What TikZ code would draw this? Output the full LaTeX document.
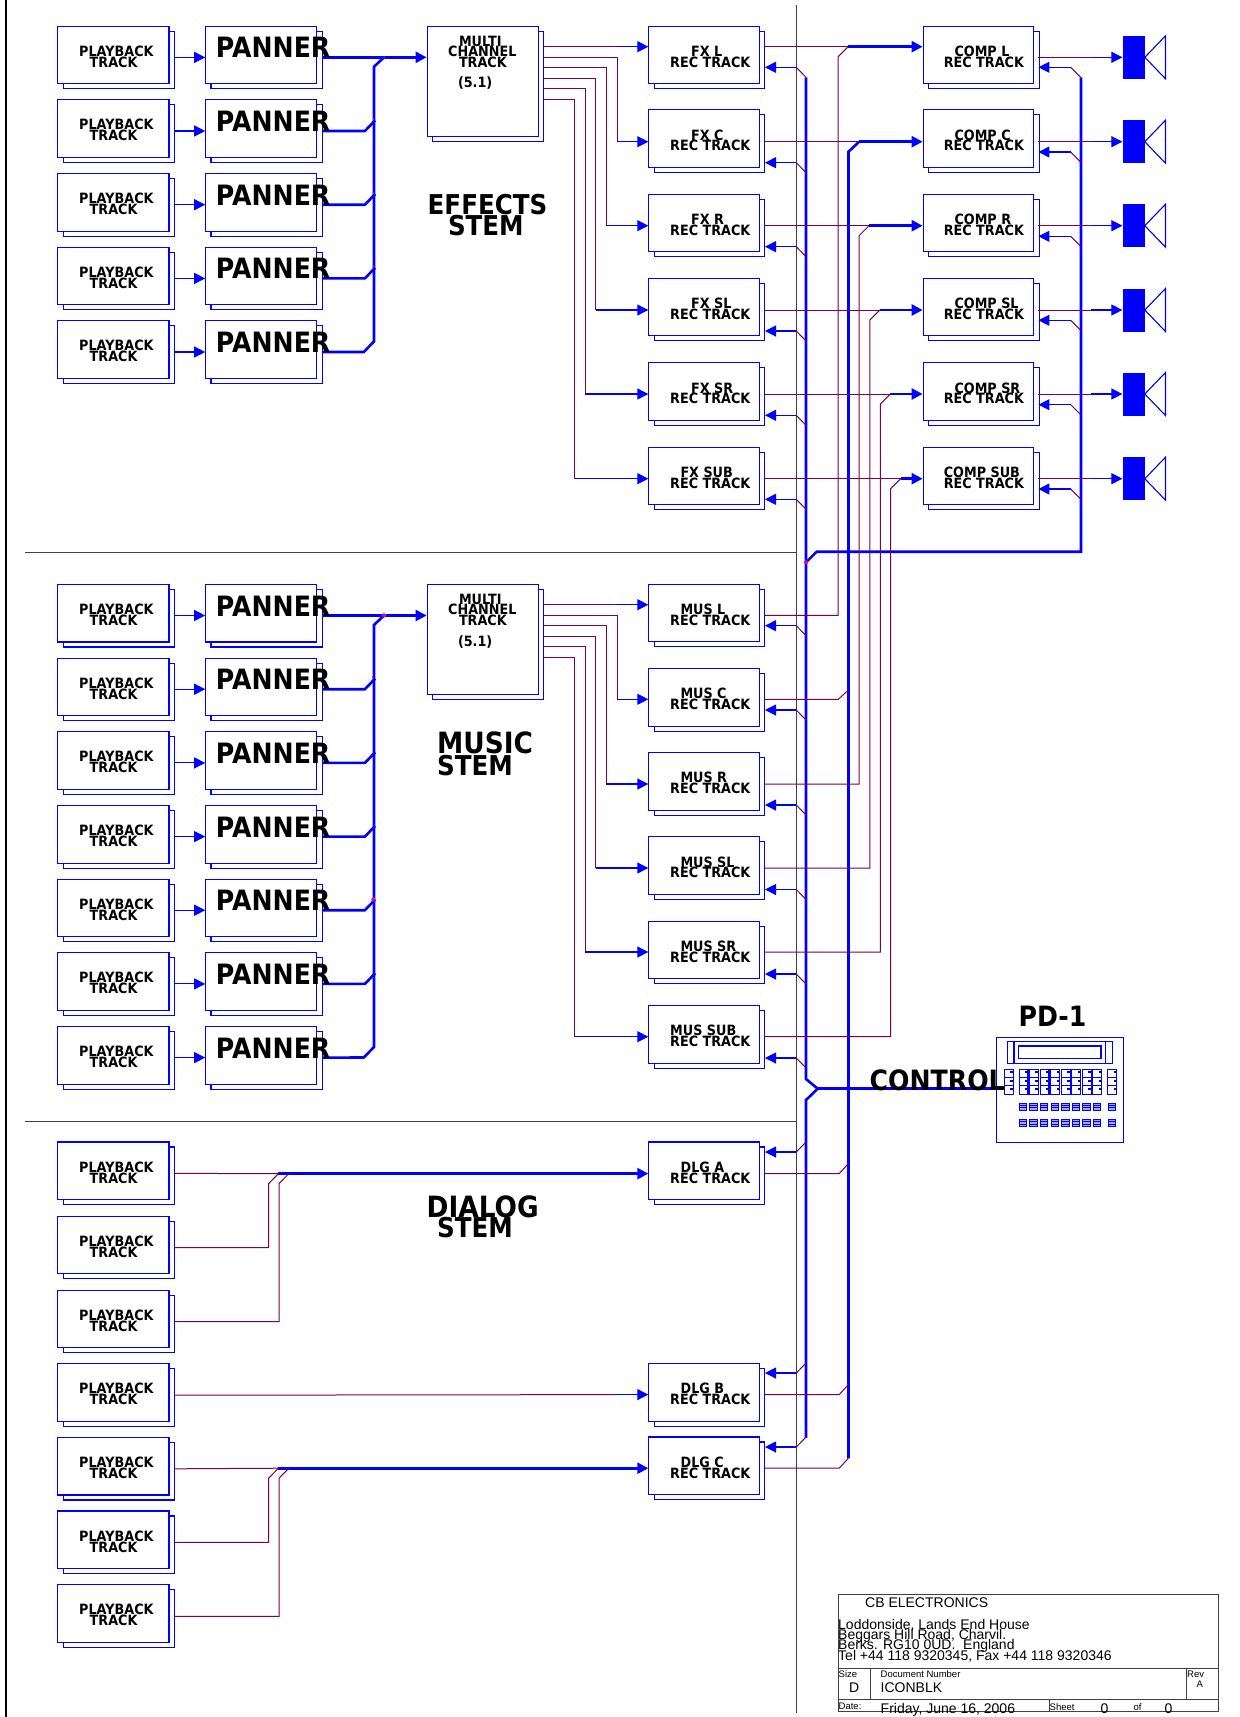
\documentclass[tikz,border=0pt]{standalone}
\usepackage{fontspec}
\setmainfont{Liberation Sans}
\newfontfamily\stemfont[FakeStretch=0.9]{DejaVu Sans}
\usetikzlibrary{arrows.meta}
\pgfdeclarelayer{labels}
\pgfsetlayers{main,labels}
\definecolor{netred}{HTML}{800040}
\tikzset{
  >={Triangle[length=11pt,width=11pt]},
  boxfront/.style={draw=blue,fill=white,line width=1.1pt,inner sep=0pt,anchor=north west},
  sig/.style={draw=blue,line width=1.1pt},
  net/.style={draw=netred,line width=1pt},
  bus/.style={draw=blue,line width=2.6pt},
  frame/.style={draw=black!75,line width=0.9pt},
  tracktext/.style={font=\stemfont\bfseries\fontsize{14.2}{14}\selectfont,inner sep=0pt,anchor=west},
  bigtext/.style={font=\stemfont\bfseries\fontsize{28}{28}\selectfont,inner sep=0pt,anchor=west},
  stemtext/.style={font=\stemfont\bfseries\fontsize{27.3}{28}\selectfont,inner sep=0pt,anchor=west},
  widetext/.style={font=\stemfont\bfseries\fontsize{29.3}{29}\selectfont,inner sep=0pt,anchor=west},
  titletext/.style={font=\fontsize{14}{15}\selectfont,inner sep=0pt,anchor=west},
  smalltext/.style={font=\fontsize{9.5}{10}\selectfont,inner sep=0pt,anchor=west}
}
% name, x, top, width, height
\newcommand{\stackbox}[5]{
  \node[boxfront,minimum width=#4pt,minimum height=#5pt] (#1-s) at (#2+5.2,#3+5) {};
  \node[boxfront,minimum width=#4pt,minimum height=#5pt] (#1) at (#2,#3) {};
}
\newcommand{\boxlabel}[5][tracktext]{
  \begin{pgfonlayer}{labels}
  \node[#1] (#2) at (#3,#4) {#5};
  \end{pgfonlayer}
}
\newcommand{\playbox}[2]{
  \stackbox{#1}{57.3}{#2}{111.1}{57.6}
  \boxlabel{#1-a}{79}{#2+25.5}{PLAYBACK}
  \boxlabel{#1-b}{89.5}{#2+36.5}{TRACK}
}
% name, x, top, label, label x, rec x
\newcommand{\recbox}[6]{
  \stackbox{#1}{#2}{#3}{110.7}{57.6}
  \boxlabel{#1-a}{#5}{#3+25.6}{#4}
  \boxlabel{#1-b}{#6}{#3+36.5}{REC TRACK}
}
\newcommand{\multibox}[2]{
  \stackbox{#1}{426.6}{#2}{111.2}{110.3}
  \boxlabel{#1-a}{458.8}{#2+15.6}{MULTI}
  \boxlabel{#1-b}{448}{#2+25.5}{CHANNEL}
  \boxlabel{#1-c}{458.8}{#2+36.5}{TRACK}
  \boxlabel{#1-d}{457.8}{#2+57.8}{(5.1)}
}
\begin{document}
\begin{tikzpicture}[x=1pt,y=-1pt]
\useasboundingbox (0,0) rectangle (1240,1717);
\draw[black,line width=1.4pt] (6,0) -- (6,1717);
\draw[frame] (796,5) -- (796,1713);
\draw[frame] (25,552) -- (796,552);
\draw[frame] (25,1121.5) -- (796,1121.5);

% playback and panner rows
\foreach \row/\top in {e1/25.7,e2/99.3,e3/173,e4/246.7,e5/320.3,
    m1/583.8,m2/657.5,m3/731.2,m4/804.9,m5/878.5,m6/952.2,m7/1025.9}{
  \playbox{pb\row}{\top}
  \stackbox{pan\row}{205.2}{\top}{111.1}{57.6}
  \boxlabel[bigtext]{pan\row-a}{215.7}{\top+22}{PANNER}
  \coordinate (pan\row-in) at (205.2,\top+31.7);
  \draw[sig,->] (pb\row-s.east |- pan\row-in) -- (pan\row-in);
}
\multibox{mfx}{25.7}
\multibox{mmus}{583.8}
\coordinate (mfx-in) at (426.6,57.3);
\coordinate (mmus-in) at (426.6,615.5);

% rec tracks
\foreach \row/\top/\lab/\lx/\cx/\inY/\back in {L/25.7/FX L/691/954.3/46.7/67.3,C/109.3/FX C/691/954.3/141.7/162.7,
    R/193.7/FX R/691/954.3/225.7/246.7,SL/277.7/FX SL/691/954.3/310/331,
    SR/362.3/FX SR/691/954.3/394/415.3,SUB/446.7/FX SUB/680.3/943.6/478.7/499.3}{
  \recbox{fx\row}{648.3}{\top}{\lab}{\lx}{670}
  \coordinate (fx\row-in) at (648.3,\inY);
  \coordinate (fx\row-bk) at (765,\back);
  \recbox{comp\row}{922.6}{\top}{COMP \row}{\cx}{943.6}
  \coordinate (comp\row-in) at (922.6,\inY);
  \coordinate (fx\row-out) at (765,\inY);
}
\foreach \row/\top/\lab/\lx/\inY/\outY/\back in {L/583.7/MUS L/680.3/604.7/615.3/625.7,C/667.9/MUS C/680.3/699.3/699.3/710,
    R/752.1/MUS R/680.3/784/784/805,SL/836.3/MUS SL/680.3/868/868/889.5,
    SR/920.5/MUS SR/680.3/952/952/974,SUB/1005/MUS SUB/670/1036.7/1036.7/1058}{
  \recbox{mus\row}{648.3}{\top}{\lab}{\lx}{670}
  \coordinate (mus\row-in) at (648.3,\inY);
  \coordinate (mus\row-out) at (765,\outY);
  \coordinate (mus\row-bk) at (765,\back);
}
\foreach \row/\top/\lab/\outY/\back in {A/1141.4/DLG A/1173.6/1152,B/1362.9/DLG B/1394.6/1373,C/1436.4/DLG C/1468.2/1447}{
  \recbox{dlg\row}{648.3}{\top}{\lab}{680.5}{670}
  \coordinate (dlg\row-in) at (648.3,\outY);
  \coordinate (dlg\row-out) at (765,\outY);
  \coordinate (dlg\row-bk) at (765,\back);
}
\foreach \row/\top in {d1/1141.4,d2/1215.7,d3/1289.6,d4/1363.2,d5/1436.8,d6/1510.4,d7/1584.3}{
  \playbox{pb\row}{\top}
  \coordinate (pb\row-out) at (174.4,\top+32);
}

% PD-1
\node[draw=blue,line width=1.1pt,inner sep=0pt,minimum width=127pt,minimum height=105pt,anchor=north west] (pd) at (996,1036.7) {};
\draw[sig] (1007.2,1041.3) rectangle (1112.4,1063.3);
\draw[sig] (1014,1041.3) -- (1014,1063.3);
\draw[sig] (1105.4,1041.3) -- (1105.4,1063.3);
\draw[sig] (1018.4,1046) rectangle (1101,1058.7);
\foreach \kx [count=\k] in {1004,1018.7,1029,1039.7,1050.3,1061,1071.3,1082,1092.3,1107.3}{
  \node[boxfront,minimum width=8.7pt,minimum height=25.3pt] (key\k) at (\kx,1069) {};
  \draw[sig] (\kx,1077.7) -- ++(8.7,0);
  \draw[sig] (\kx,1085.7) -- ++(8.7,0);
  \foreach \ky in {1069,1077.7,1085.7}
    \fill[blue!80!black] (\kx+6.4,\ky+2) rectangle ++(2.3,2.2);
}
\foreach \kx in {1019.3,1029.7,1040.3,1050.9,1061.6,1072,1082.6,1093,1107.9}{
  \foreach \ky in {1103,1119.5}{
    \draw[sig,line width=0.8pt,fill=blue!35] (\kx,\ky) rectangle ++(7.3,7);
    \draw[sig,line width=0.7pt] (\kx,\ky+2.3) -- ++(7.3,0);
    \draw[sig,line width=0.7pt] (\kx,\ky+4.6) -- ++(7.3,0);
  }
}
\boxlabel[bigtext]{pdname}{1018.4}{1016.7}{PD-1}
\boxlabel[bigtext]{ctrl}{869.5}{1080}{CONTROL}

% buses
\coordinate (busA-top) at (806,77.3);
\coordinate (compC-k) at (859.2,141.7);
\coordinate (busR-top) at (1081,77.3);
\draw[bus] (busA-top) -- (806,1079) -- (817.7,1088.7) -- (806,1100) -- (806,1437.9);
\draw[bus] (817.7,1088.7) -- (key1.west |- 0,1088.7);
\draw[bus] (busR-top) -- (1081,551.7) -- (816.7,551.7) -- (806,562.3);
\draw[bus] (compC-k) -- ++(-10.7,10) -- (848.5,1458);
\draw[bus,->] (compC-k) -- (compC-in);
\fill[magenta] (806,562.3) circle[radius=2pt];

% panner buses
\draw[bus,->] (panm1-s.east |- mmus-in) -- (mmus-in);
\draw[bus,->] (pane1-s.east |- mfx-in) -- (mfx-in);
\draw[bus] (384,57.3) -- ++(-10,9.4) -- (374,341.4) -- ++(-10.2,10.6) -- (pane5-s.east |- pane5-in);
\draw[bus] (384,615.5) -- ++(-10,9.4) -- (374,1047) -- ++(-10.2,10.5) -- (panm7-s.east |- panm7-in);
\foreach \row in {e2,e3,e4,m2,m3,m4,m5,m6}
  \draw[bus] (pan\row-s.east |- pan\row-in) -- ++(42.3,0) -- ++(10.2,-10.6);
\foreach \jx/\jy/\jr in {384/57.3/1,373.3/119/1,373.3/192.7/1,373.3/266.4/1,384/615.3/2,
    372.7/677.3/1,373.3/899.3/2}
  \fill[magenta] (\jx,\jy) circle[radius=\jr pt];

% multi channel outputs
\foreach \row/\dy/\vx/\inY in {L/16/617/46.7,C/26.6/617/141.7,R/37/606.2/225.7,SL/47.6/595.9/310,SR/58/585.2/394,SUB/68.6/574.9/478.7}{
  \coordinate (fx\row-k) at (\vx,\inY);
  \draw[net] (mfx-s.north east) ++(0,\dy) -| (fx\row-k);
  \draw[sig,->] (fx\row-k) -- (fx\row-in);
}
\foreach \row/\dy/\vx/\inY in {L/16/617/604.7,C/26.6/617/699.3,R/37/606.2/784,SL/47.6/595.9/868,SR/58/585.2/952,SUB/68.6/574.9/1036.7}{
  \coordinate (mus\row-k) at (\vx,\inY);
  \draw[net] (mmus-s.north east) ++(0,\dy) -| (mus\row-k);
  \draw[sig,->] (mus\row-k) -- (mus\row-in);
}

% back arrows from the control bus
\foreach \row in {fxL,fxC,fxR,fxSL,fxSR,fxSUB,musL,musC,musR,musSL,musSR,musSUB}{
  \draw[sig,<-] (\row-bk) -- ++(31.3,0) coordinate (\row-t);
  \draw[net] (\row-t) -- ++(9.7,10);
}
\foreach \row in {A,B,C}{
  \draw[sig,<-] (dlg\row-bk) -- ++(31.3,0) coordinate (dlg\row-t);
  \draw[net] (dlg\row-t) -- ++(9.7,-10);
  \draw[net] (dlg\row-out) -- ++(74.2,0) -- ++(9.2,-10);
}

% fx to comp, mus joining on the way
\draw[net] (fxC-out) -- (compC-k);
\draw[net] (musC-out) -- (838.3,699.3) -- ++(10.4,-9.6);
\foreach \row/\kx/\inY in {L/848.2/46.7,R/869/225.7,SL/879.8/310,SR/890.3/394,SUB/900.7/478.7}{
  \coordinate (comp\row-k) at (\kx,\inY);
  \draw[net] (fx\row-out) -- (comp\row-k);
  \draw[bus,->] (comp\row-k) -- (comp\row-in);
  \draw[net] (comp\row-k) -- ++(-10,10) |- (mus\row-out);
}

% comp to speakers
\foreach \row/\outY/\back in {L/57.3/67.3,C/141.7/152,R/225.7/236.3,SL/310/320.3,SR/394/404.7,SUB/478.7/489}{
  \node[fill=blue,inner sep=0pt,minimum width=22pt,minimum height=43pt] (spk\row) at (1133.6,\outY) {};
  \draw[sig] (spk\row.east) -- ++(20.7,-21.5) -- ++(0,43) -- cycle;
  \coordinate (comp\row-out) at (1038.4,\outY);
  \coordinate (comp\row-bk) at (1038.4,\back);
  \draw[net] (comp\row-out) -- ++(53,0) coordinate (comp\row-m);
  \draw[sig,->] (comp\row-m) -- (spk\row.west);
  \draw[sig,<-] (comp\row-bk) -- ++(32.3,0) coordinate (comp\row-t);
  \draw[net] (comp\row-t) -- ++(10,10);
}

% dialog routing
\coordinate (dlgA-k) at (278.4,1173.6);
\coordinate (dlgC-k) at (278.4,1468.2);
\coordinate (dlgB-k) at (617,1394.6);
\draw[net] (pbd1-out) -- (dlgA-k);
\draw[bus,->] (dlgA-k) -- (dlgA-in);
\draw[net] (dlgA-k) -- ++(-9.7,10) |- (pbd2-out);
\draw[net] (dlgA-k) ++(10.4,0) -- ++(-9.8,10) |- (pbd3-out);
\draw[net] (pbd4-out) -- (dlgB-k);
\draw[sig,->] (dlgB-k) -- (dlgB-in);
\draw[net] (pbd5-out) -- (dlgC-k);
\draw[bus,->] (dlgC-k) -- (dlgC-in);
\draw[net] (dlgC-k) -- ++(-9.7,10) |- (pbd6-out);
\draw[net] (dlgC-k) ++(10.4,0) -- ++(-9.8,10) |- (pbd7-out);

% stem names
\boxlabel[stemtext]{fxstem-a}{427.5}{205}{EFFECTS}
\boxlabel[stemtext]{fxstem-b}{447.8}{226}{STEM}
\boxlabel[widetext]{musstem-a}{437}{743}{MUSIC}
\boxlabel[stemtext]{musstem-b}{437}{765.5}{STEM}
\boxlabel[widetext]{dlgstem-a}{426.5}{1206.8}{DIALOG}
\boxlabel[stemtext]{dlgstem-b}{437}{1228}{STEM}

% title block
\draw[frame] (838,1594.3) rectangle (1218,1711);
\draw[frame] (838,1668.3) -- (1218,1668.3);
\draw[frame] (838,1699.3) -- (1218,1699.3);
\draw[frame] (870,1668.3) -- (870,1699.3);
\draw[frame] (1186.7,1668.3) -- (1186.7,1699.3);
\draw[frame] (1049.3,1699.3) -- (1049.3,1711);
\node[titletext] (company) at (865,1603) {CB ELECTRONICS};
\node[titletext] (addr1) at (838,1625) {Loddonside, Lands End House};
\node[titletext] (addr2) at (838,1635.5) {Beggars Hill Road, Charvil.};
\node[titletext] (addr3) at (838,1645.5) {Berks. RG10 0UD.\ \ England};
\node[titletext] (addr4) at (838,1656.7) {Tel +44 118 9320345, Fax +44 118 9320346};
\node[smalltext] (sizehead) at (838.5,1674) {Size};
\node[titletext] (sizeval) at (849,1688) {D};
\node[smalltext] (dochead) at (880.5,1674) {Document Number};
\node[titletext] (docval) at (880.5,1688) {ICONBLK};
\node[smalltext] (revhead) at (1187,1674) {Rev};
\node[smalltext] (revval) at (1196.5,1684) {A};
\node[smalltext] (datehead) at (838.5,1706.7) {Date:};
\node[titletext] (dateval) at (880.5,1709.5) {Friday, June 16, 2006};
\node[smalltext] (sheethead) at (1049.5,1706.7) {Sheet};
\node[titletext] (sheetval) at (1100.5,1709) {0};
\node[smalltext] (ofhead) at (1133.5,1706.7) {of};
\node[titletext] (ofval) at (1164.5,1709) {0};
\end{tikzpicture}
\end{document}
